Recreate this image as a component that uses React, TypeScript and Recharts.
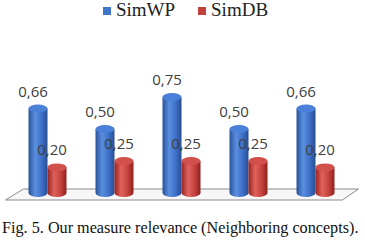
import React from 'react';
import { Bar, BarChart, LabelList, Legend, ReferenceArea, XAxis, YAxis } from 'recharts';

const categories = ['1', '2', '3', '4', '5'];
const simWP = [0.66, 0.5, 0.75, 0.5, 0.66];
const simDB = [0.2, 0.25, 0.25, 0.25, 0.2];
const seriesNames = ['SimWP', 'SimDB'];

const data = categories.map((name, i) => ({
  name,
  [seriesNames[0]]: simWP[i],
  [seriesNames[1]]: simDB[i],
}));

const COLORS: Record<string, { stops: string[]; top: string; legend: string }> = {
  SimWP: { stops: ['#2a5298', '#5a8fe0', '#3d6fc7', '#274d93'], top: '#4a80d8', legend: '#3f78c8' },
  SimDB: { stops: ['#99231f', '#e0625d', '#c4413c', '#8e201d'], top: '#d2504c', legend: '#c0413c' },
};

const RY = 4;

function Cylinder(props: any) {
  const { x, y, width, height, dataKey } = props;
  if (width == null || height == null) return null;
  const c = COLORS[dataKey];
  const rx = width / 2;
  const bottom = y + height;
  const id = `grad-${dataKey}`;
  const d = `M${x},${y} L${x},${bottom} A${rx},${RY} 0 0 0 ${x + width},${bottom} L${x + width},${y} Z`;
  return (
    <g>
      <defs>
        <linearGradient id={id} x1="0" y1="0" x2="1" y2="0">
          <stop offset="0" stopColor={c.stops[0]} />
          <stop offset="0.35" stopColor={c.stops[1]} />
          <stop offset="0.7" stopColor={c.stops[2]} />
          <stop offset="1" stopColor={c.stops[3]} />
        </linearGradient>
      </defs>
      <path d={d} fill={`url(#${id})`} />
      <ellipse cx={x + rx} cy={y} rx={rx} ry={RY} fill={c.top} />
    </g>
  );
}

function Floor(props: any) {
  const { x, y, width, height } = props;
  const base = y + height;
  const back = base - 4;
  const front = base + 7;
  const pts = `${x + 10},${back} ${x + width + 10},${back} ${x + width - 6},${front} ${x - 8},${front}`;
  return <polygon points={pts} fill="#f7f7f7" stroke="#8a8a8a" strokeWidth={1} />;
}

const valueLabel = (props: any) => {
  const { x, y, width, value } = props;
  return (
    <text
      x={x + width / 2 - 5}
      y={y - 12}
      textAnchor="middle"
      fill="#404040"
      fontFamily="'Open Sans', 'DejaVu Sans', sans-serif"
      fontSize={15}
    >
      {Number(value).toFixed(2).replace('.', ',')}
    </text>
  );
};

const renderLegend = () => (
  <div style={{ display: 'flex', justifyContent: 'center', gap: 23, paddingLeft: 6 }}>
    {seriesNames.map((n) => (
      <div key={n} style={{ display: 'flex', alignItems: 'center' }}>
        <span style={{ width: 8, height: 8, background: COLORS[n].legend, marginRight: 5, marginTop: 2 }} />
        <span style={{ fontFamily: "'Liberation Serif', serif", fontSize: 19, color: '#222', lineHeight: '20px' }}>
          {n}
        </span>
      </div>
    ))}
  </div>
);

export default function App() {
  return (
    <div style={{ position: 'absolute', left: 0, top: 0, width: 365, height: 247, background: '#fff' }}>
      <BarChart
        width={365}
        height={210}
        data={data}
        margin={{ top: 65, right: 16.5, left: 13.5, bottom: 17 }}
        barGap={0}
        barSize={19}
      >
        <XAxis dataKey="name" hide />
        <YAxis domain={[0, 1]} hide />
        <ReferenceArea y1={0} y2={0.01} ifOverflow="visible" shape={<Floor />} />
        <Legend
          layout="horizontal"
          verticalAlign="middle"
          align="center"
          content={renderLegend}
          wrapperStyle={{ top: 0, left: 0, width: 365 }}
        />
        {seriesNames.map((n) => (
          <Bar key={n} dataKey={n} isAnimationActive={false} shape={(p: any) => <Cylinder {...p} dataKey={n} />}>
            <LabelList dataKey={n} content={valueLabel} />
          </Bar>
        ))}
      </BarChart>
      <div
        style={{
          position: 'absolute',
          left: 2,
          top: 219,
          width: 365,
          fontFamily: "'Liberation Serif', serif",
          fontSize: 16.2,
          color: '#111',
          whiteSpace: 'nowrap',
        }}
      >
        Fig. 5. Our measure relevance (Neighboring concepts).
      </div>
    </div>
  );
}
